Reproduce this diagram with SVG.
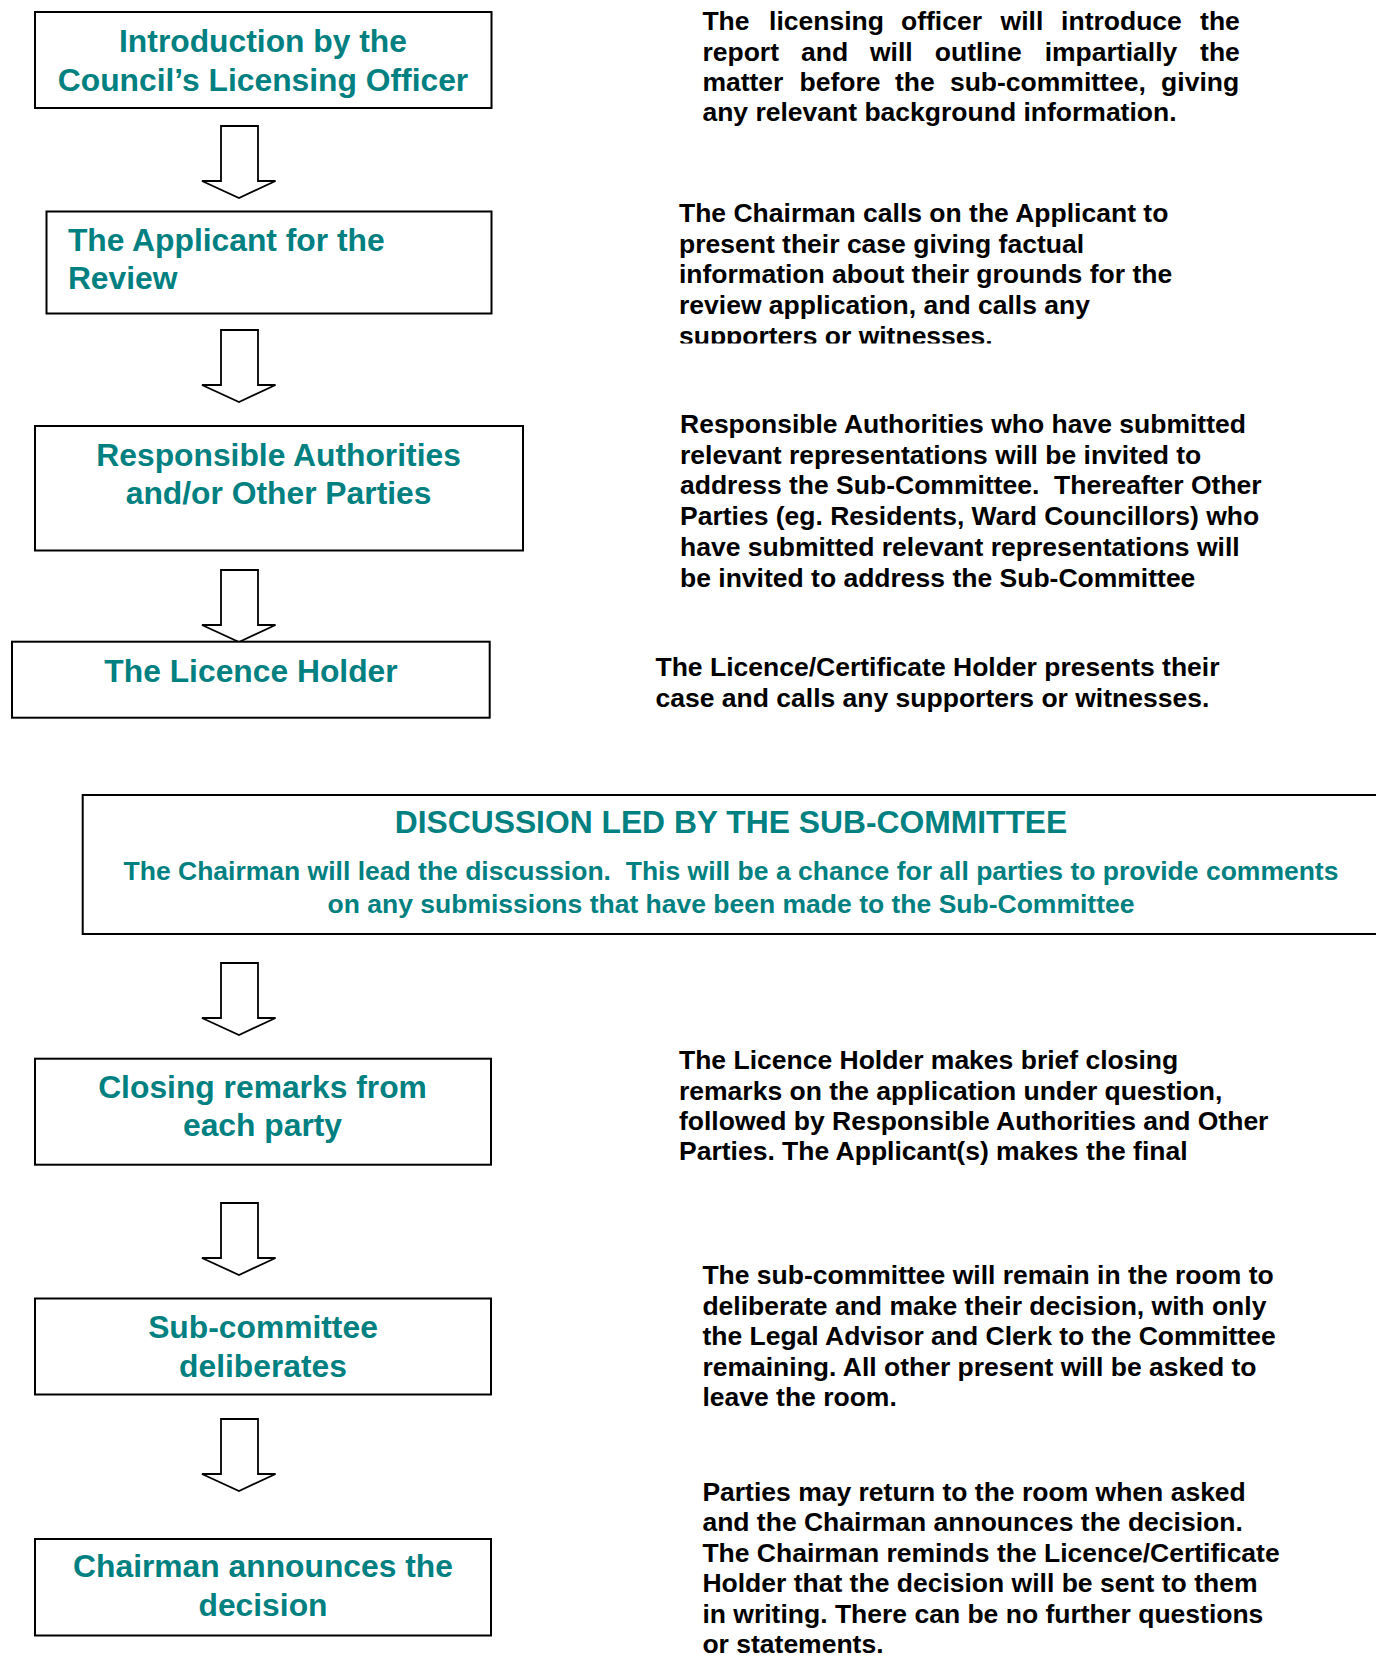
<svg xmlns="http://www.w3.org/2000/svg" xmlns:xlink="http://www.w3.org/1999/xlink" width="1376" height="1655" viewBox="0 0 1376 1655">
<style>
.box{fill:#fff;stroke:#000;stroke-width:2}
.arrow{fill:#fff;stroke:#000;stroke-width:1.8;stroke-linejoin:miter}
.t{font-family:"Liberation Sans",Arial,sans-serif;font-weight:bold;fill:#008080;font-size:31.8px}
.tb{font-family:"Liberation Sans",Arial,sans-serif;font-weight:bold;fill:#008080;font-size:26.5px}
.d{font-family:"Liberation Sans",Arial,sans-serif;font-weight:bold;fill:#000;font-size:26.5px}
</style>
<defs>
<path id="downArrow" d="M221,0 H258 V55 H275.5 L239,72 L202,55 H221 Z"/>
<clipPath id="clipP2"><rect x="600" y="150" width="700" height="193.5"/></clipPath>
</defs>
<rect width="1376" height="1655" fill="#fff"/>

<g id="connectors">
<use xlink:href="#downArrow" class="arrow" transform="translate(0,126)"/>
<use xlink:href="#downArrow" class="arrow" transform="translate(0,330)"/>
<use xlink:href="#downArrow" class="arrow" transform="translate(0,570)"/>
<use xlink:href="#downArrow" class="arrow" transform="translate(0,963)"/>
<use xlink:href="#downArrow" class="arrow" transform="translate(0,1203)"/>
<use xlink:href="#downArrow" class="arrow" transform="translate(0,1419)"/>
</g>

<g id="node-introduction">
<rect class="box" x="35" y="12" width="456.5" height="96"/>
<text class="t" text-anchor="middle"><tspan x="263" y="52">Introduction by the</tspan><tspan x="263" y="90.7">Council’s Licensing Officer</tspan></text>
</g>

<g id="node-applicant">
<rect class="box" x="46.5" y="211.5" width="445" height="102"/>
<text class="t"><tspan x="67.9" y="250.7">The Applicant for the</tspan><tspan x="67.9" y="289.3">Review</tspan></text>
</g>

<g id="node-authorities">
<rect class="box" x="35" y="426" width="488" height="124.5"/>
<text class="t" text-anchor="middle"><tspan x="278.6" y="465.5">Responsible Authorities</tspan><tspan x="278.6" y="504">and/or Other Parties</tspan></text>
</g>

<g id="node-licence-holder">
<rect class="box" x="12" y="641.7" width="477.7" height="76"/>
<text class="t" text-anchor="middle"><tspan x="251" y="681.5">The Licence Holder</tspan></text>
</g>

<g id="node-discussion">
<rect class="box" x="82.7" y="795" width="1400" height="139"/>
<text class="t" text-anchor="middle"><tspan x="731" y="833.3">DISCUSSION LED BY THE SUB-COMMITTEE</tspan></text>
<text class="tb" text-anchor="middle" xml:space="preserve"><tspan x="731" y="880.3">The Chairman will lead the discussion.  This will be a chance for all parties to provide comments</tspan></text>
<text class="tb" text-anchor="middle"><tspan x="731" y="912.7">on any submissions that have been made to the Sub-Committee</tspan></text>
</g>

<g id="node-closing">
<rect class="box" x="35" y="1058.7" width="456" height="106"/>
<text class="t" text-anchor="middle"><tspan x="262.5" y="1097.7">Closing remarks from</tspan><tspan x="262.5" y="1135.5">each party</tspan></text>
</g>

<g id="node-deliberates">
<rect class="box" x="35" y="1298.5" width="456" height="96"/>
<text class="t" text-anchor="middle"><tspan x="263" y="1338">Sub-committee</tspan><tspan x="263" y="1376.5">deliberates</tspan></text>
</g>

<g id="node-announce">
<rect class="box" x="35" y="1539" width="456" height="96.5"/>
<text class="t" text-anchor="middle"><tspan x="263" y="1577">Chairman announces the</tspan><tspan x="263" y="1616">decision</tspan></text>
</g>

<g id="desc-introduction">
<text class="d" transform="translate(702.4,0)">
<tspan x="0" y="30">The</tspan><tspan x="66.7" y="30">licensing</tspan><tspan x="198.6" y="30">officer</tspan><tspan x="298.2" y="30">will</tspan><tspan x="358.7" y="30">introduce</tspan><tspan x="497.7" y="30">the</tspan>
<tspan x="0" y="60.5">report</tspan><tspan x="98.6" y="60.5">and</tspan><tspan x="167.6" y="60.5">will</tspan><tspan x="232.4" y="60.5">outline</tspan><tspan x="342.3" y="60.5">impartially</tspan><tspan x="497.7" y="60.5">the</tspan>
<tspan x="0" y="91">matter</tspan><tspan x="97.2" y="91">before</tspan><tspan x="192.5" y="91">the</tspan><tspan x="247.5" y="91">sub-committee,</tspan><tspan x="458.7" y="91">giving</tspan>
<tspan x="0" y="121">any relevant background information.</tspan>
</text>
</g>

<g id="desc-applicant" clip-path="url(#clipP2)">
<text class="d"><tspan x="679" y="222">The Chairman calls on the Applicant to</tspan><tspan x="679" y="252.6">present their case giving factual</tspan><tspan x="679" y="283.2">information about their grounds for the</tspan><tspan x="679" y="313.8">review application, and calls any</tspan><tspan x="679" y="344.6">supporters or witnesses.</tspan></text>
</g>

<g id="desc-authorities">
<text class="d" xml:space="preserve"><tspan x="680" y="433">Responsible Authorities who have submitted</tspan><tspan x="680" y="463.5">relevant representations will be invited to</tspan><tspan x="680" y="494">address the Sub-Committee.  Thereafter Other</tspan><tspan x="680" y="524.5">Parties (eg. Residents, Ward Councillors) who</tspan><tspan x="680" y="555.5">have submitted relevant representations will</tspan><tspan x="680" y="587">be invited to address the Sub-Committee</tspan></text>
</g>

<g id="desc-licence-holder">
<text class="d"><tspan x="655.5" y="676">The Licence/Certificate Holder presents their</tspan><tspan x="655.5" y="706.5">case and calls any supporters or witnesses.</tspan></text>
</g>

<g id="desc-closing">
<text class="d"><tspan x="679" y="1069">The Licence Holder makes brief closing</tspan><tspan x="679" y="1099.5">remarks on the application under question,</tspan><tspan x="679" y="1130">followed by Responsible Authorities and Other</tspan><tspan x="679" y="1160">Parties. The Applicant(s) makes the final</tspan></text>
</g>

<g id="desc-deliberates">
<text class="d"><tspan x="702.4" y="1284">The sub-committee will remain in the room to</tspan><tspan x="702.4" y="1314.6">deliberate and make their decision, with only</tspan><tspan x="702.4" y="1345">the Legal Advisor and Clerk to the Committee</tspan><tspan x="702.4" y="1375.8">remaining. All other present will be asked to</tspan><tspan x="702.4" y="1406.4">leave the room.</tspan></text>
</g>

<g id="desc-announce">
<text class="d"><tspan x="702.4" y="1500.5">Parties may return to the room when asked</tspan><tspan x="702.4" y="1531">and the Chairman announces the decision.</tspan><tspan x="702.4" y="1561.5">The Chairman reminds the Licence/Certificate</tspan><tspan x="702.4" y="1592">Holder that the decision will be sent to them</tspan><tspan x="702.4" y="1622.5">in writing. There can be no further questions</tspan><tspan x="702.4" y="1653">or statements.</tspan></text>
</g>
</svg>
